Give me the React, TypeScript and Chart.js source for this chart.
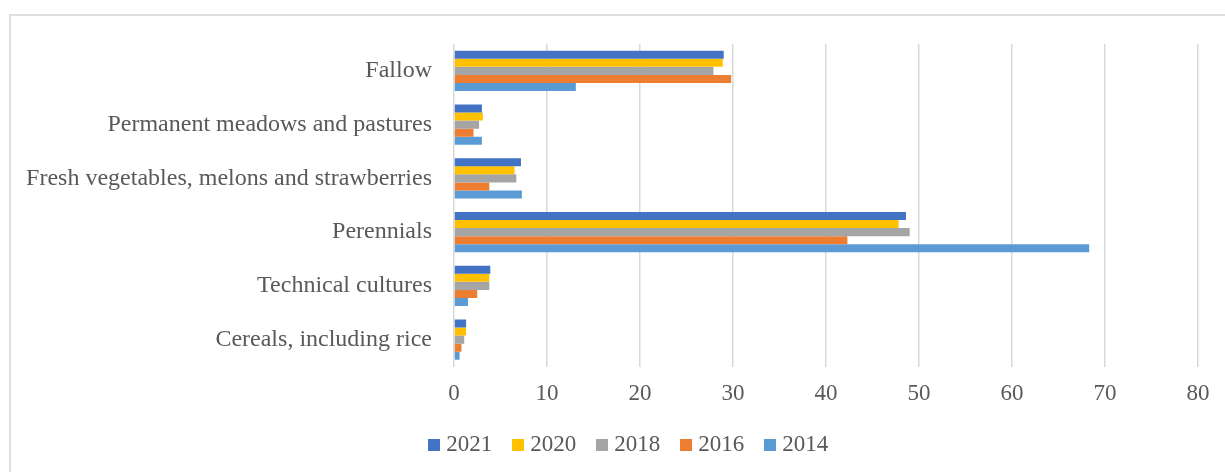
import React, { useEffect, useRef } from "react";
import { Chart, registerables } from "chart.js";

Chart.register(...registerables);

const categories = [
  "Fallow",
  "Permanent meadows and pastures",
  "Fresh vegetables, melons and strawberries",
  "Perennials",
  "Technical cultures",
  "Cereals, including rice",
];

const values2021 = [29.0, 3.0, 7.2, 48.6, 3.9, 1.3];
const values2020 = [28.9, 3.1, 6.5, 47.8, 3.8, 1.3];
const values2018 = [27.9, 2.7, 6.7, 49.0, 3.8, 1.1];
const values2016 = [29.8, 2.1, 3.8, 42.3, 2.5, 0.8];
const values2014 = [13.1, 3.0, 7.3, 68.3, 1.5, 0.6];

const seriesLabels = ["2021", "2020", "2018", "2016", "2014"];
const seriesColors = ["#4472C4", "#FFC000", "#A5A5A5", "#ED7D31", "#5B9BD5"];

const xMin = 0;
const xMax = 80;
const xStep = 10;

const FONT = "'Liberation Serif', 'Times New Roman', serif";
const TEXT = "#595959";

function makeSwatch(color: string) {
  const c = document.createElement("canvas");
  c.width = 12;
  c.height = 12;
  const ctx = c.getContext("2d")!;
  ctx.fillStyle = color;
  ctx.fillRect(0, 0, 12, 12);
  return c;
}

export default function App() {
  const ref = useRef<HTMLCanvasElement | null>(null);

  useEffect(() => {
    if (!ref.current) return;
    const seriesValues = [values2021, values2020, values2018, values2016, values2014];
    const swatches = seriesColors.map(makeSwatch);
    const unclipLabels = {
      id: "unclipLabels",
      afterLayout(chart: any) {
        chart.scales.y.left = 0;
      },
    };
    const chart = new Chart(ref.current, {
      type: "bar",
      data: {
        labels: categories,
        datasets: seriesLabels.map((l, i) => ({
          label: l,
          data: seriesValues[i],
          backgroundColor: seriesColors[i],
          borderWidth: 0,
          barPercentage: 1,
          categoryPercentage: 0.75,
        })),
      },
      plugins: [unclipLabels],
      options: {
        indexAxis: "y",
        responsive: false,
        animation: false,
        devicePixelRatio: 1,
        layout: { padding: { left: 54, right: 48, top: 29, bottom: 5.5 } },
        plugins: {
          tooltip: { enabled: false },
          legend: {
            position: "bottom",
            labels: {
              usePointStyle: true,
              boxWidth: 1,
              boxHeight: 12,
              padding: 25.5,
              color: TEXT,
              font: { family: FONT, size: 23 },
              generateLabels: (c: any) =>
                c.data.datasets.map((ds: any, i: number) => ({
                  text: ds.label,
                  fillStyle: ds.backgroundColor,
                  strokeStyle: ds.backgroundColor,
                  lineWidth: 0,
                  pointStyle: swatches[i],
                  hidden: false,
                  datasetIndex: i,
                  fontColor: TEXT,
                })),
            },
          },
        },
        scales: {
          x: {
            min: xMin,
            max: xMax,
            border: { display: false },
            grid: { color: "#d9d9d9", lineWidth: 1.5, drawTicks: false },
            ticks: {
              stepSize: xStep,
              padding: 14,
              color: TEXT,
              font: { family: FONT, size: 23 },
            },
            afterFit: (s: any) => {
              s.height = 41.5;
              s.paddingLeft = 0;
              s.paddingRight = 0;
            },
          },
          y: {
            border: { display: false },
            grid: { display: false, drawTicks: false },
            ticks: {
              padding: 22,
              color: TEXT,
              font: { family: FONT, size: 24 },
            },
            afterFit: (s: any) => {
              s.width = 390;
              s.paddingTop = 0;
              s.paddingBottom = 0;
            },
          },
        },
      },
    });
    return () => chart.destroy();
  }, []);

  return (
    <div style={{ position: "fixed", inset: 0, overflow: "hidden", background: "#fff" }}>
      <div
        style={{
          position: "absolute",
          left: 9,
          top: 14,
          width: 1260,
          height: 500,
          borderLeft: "2px solid #dedede",
          borderTop: "2px solid #dedede",
          boxSizing: "border-box",
        }}
      />
      <div style={{ position: "absolute", left: 10, top: 15, width: 1236, height: 457 }}>
        <canvas ref={ref} width={1236} height={457} style={{ display: "block" }} />
      </div>
    </div>
  );
}
